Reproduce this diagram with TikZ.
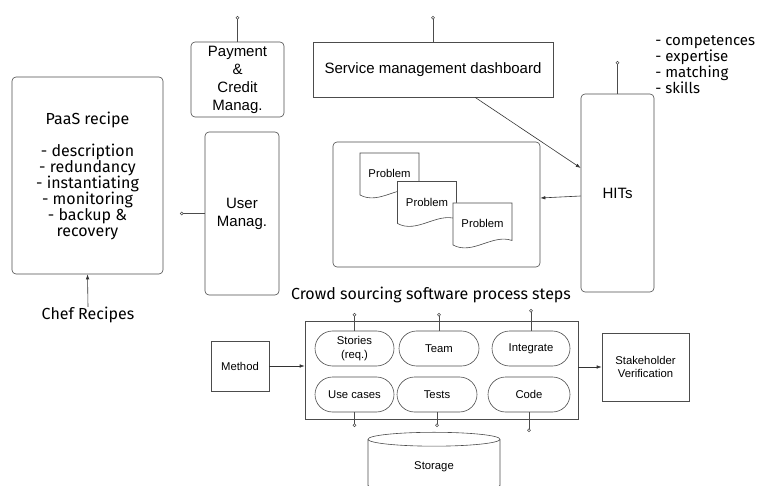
\documentclass[tikz,border=0pt]{standalone}
\usepackage{fontspec}
\setmainfont{Liberation Sans}
\newfontfamily\handfont{Fira Sans}
\usetikzlibrary{positioning,shapes.misc,shapes.geometric,arrows.meta}

\tikzset{
  box/.style={draw=black!70, rounded corners=4pt, align=center, inner sep=0pt,
    font=\fontsize{15}{18}\selectfont},
  sqbox/.style={draw=black!70, align=center, inner sep=0pt,
    font=\fontsize{11.3}{13.5}\selectfont},
  pill/.style={draw=black!70, rounded rectangle, align=center, inner sep=0pt,
    minimum width=79pt, minimum height=35pt, font=\fontsize{11.3}{13.5}\selectfont},
  hand/.style={font=\handfont\fontsize{16}{16}\selectfont, align=center, inner sep=0pt},
  stub/.style={draw=black!70, -{Circle[open,length=3.5pt]}},
  flow/.style={draw=black!80, -{Latex[length=5pt,width=3.5pt]}},
}

\begin{document}
\begin{tikzpicture}[x=1pt,y=-1pt,line width=0.6pt]
\useasboundingbox (0,0) rectangle (760,486);
\clip (0,0) rectangle (760,486);

% left side
\node[box, hand, minimum width=151pt, minimum height=197pt] (paas) at (87.5,175.5)
  {PaaS recipe\\ \\- description\\- redundancy\\- instantiating\\- monitoring\\- backup \&\\recovery};
\node[hand] (chef) at (88,315) {Chef Recipes};
\draw[flow] (chef.north) -- (paas.south);

\node[box, minimum width=74pt, minimum height=163pt] (user) at (242,213.5) {User\\Manag.};
\coordinate (user-c) at (180,213.5);
\draw[stub] (user.west) -- (user-c);

% top row
\node[box, minimum width=93pt, minimum height=75pt] (pay) at (237.5,79.5) {Payment\\\&\\Credit\\Manag.};
\coordinate (pay-c) at (237.5,16);
\draw[stub] (pay.north) -- (pay-c);

\node[sqbox, font=\fontsize{15}{18}\selectfont, minimum width=240pt, minimum height=55pt] (dash) at (433,69.5)
  {Service management dashboard};
\coordinate (dash-c) at (433,16);
\draw[stub] (dash.north) -- (dash-c);

\node[box, minimum width=73pt, minimum height=198pt] (hits) at (617.5,193) {HITs};
\coordinate (hits-c) at (617.5,61);
\draw[stub] (hits.north) -- (hits-c);
\node[hand, font=\handfont\fontsize{15}{16}\selectfont, align=left, anchor=west] (skills) at (655,64.5)
  {- competences\\- expertise\\- matching\\- skills};

\draw[flow] ([xshift=42pt]dash.south) -- ([yshift=25pt]hits.west);

% problems
\node[box, minimum width=207pt, minimum height=125pt] (probs) at (436.5,204.5) {};
\draw[flow] ([yshift=-3pt]hits.west) -- ([yshift=6.5pt]probs.east);

\foreach \n/\x/\y in {1/389.5/175.5, 2/427/204, 3/482.5/225.5} {
  \filldraw[draw=black!70, fill=white] (\x-29.5,\y-22.5) -- (\x+29.5,\y-22.5) -- (\x+29.5,\y+15)
    .. controls (\x+10,\y+8) and (\x-10,\y+30) .. (\x-29.5,\y+19.5) -- cycle;
  \node[font=\fontsize{11.3}{13.5}\selectfont] (prob\n) at (\x,\y-2) {Problem};
}

% process steps
\node[hand] (steps) at (431,295) {Crowd sourcing software process steps};
\node[sqbox, minimum width=273pt, minimum height=98pt] (proc) at (441.5,370) {};

\node[pill] (stories) at (354.5,348.5) {Stories\\(req.)};
\node[pill, minimum width=80pt] (team) at (439,348.5) {Team};
\node[pill, minimum width=78pt] (integ) at (531,348.5) {Integrate};
\node[pill] (usec) at (354.5,394.5) {Use cases};
\node[pill, minimum width=80pt] (tests) at (437,394.5) {Tests};
\node[pill, minimum width=82pt] (code) at (529,394.5) {Code};

\coordinate (stories-c) at (354.5,313);
\coordinate (team-c) at (439,313);
\coordinate (integ-c) at (531,309);
\coordinate (usec-c) at (354.5,427);
\coordinate (tests-c) at (437,427);
\coordinate (code-c) at (529,432);
\draw[stub] (stories.north) -- (stories-c);
\draw[stub] (team.north) -- (team-c);
\draw[stub] (integ.north) -- (integ-c);
\draw[stub] (usec.south) -- (usec-c);
\draw[stub] (tests.south) -- (tests-c);
\draw[stub] (code.south) -- (code-c);

\node[sqbox, minimum width=58pt, minimum height=50pt] (method) at (240,366) {Method};
\draw[flow] (method.east) -- (method.east -| proc.west);

\node[sqbox, minimum width=87pt, minimum height=68pt] (stake) at (645.5,367) {Stakeholder\\Verification};
\draw[flow] (proc.east |- stake.west) -- (stake.west);

\node[cylinder, shape border rotate=90, draw=black!70, aspect=0.3, minimum width=132pt,
  minimum height=60pt, font=\fontsize{11.3}{13.5}\selectfont] (store) at (434,467) {Storage};
\end{tikzpicture}
\end{document}
